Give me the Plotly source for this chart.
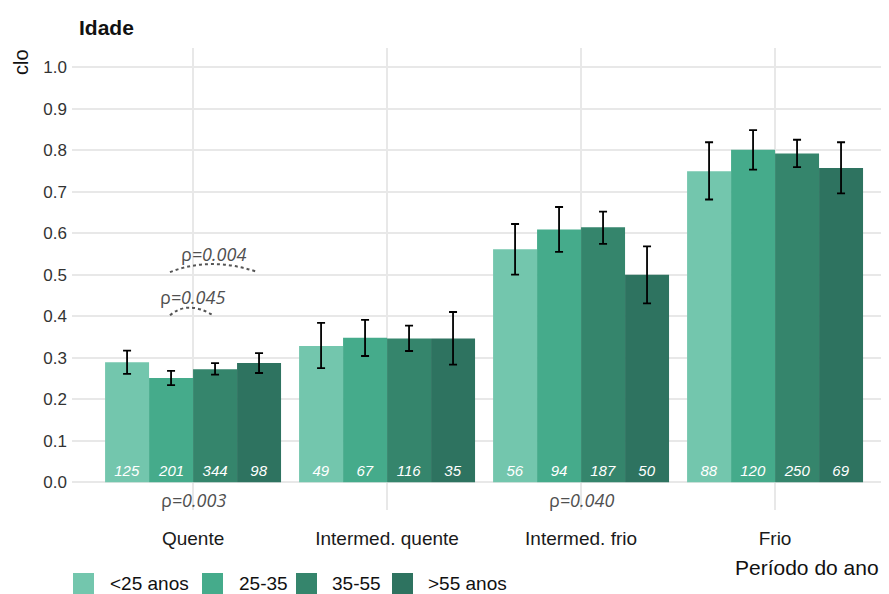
import plotly.graph_objects as go

# ---------------- data ----------------
periods = ["Quente", "Intermed. quente", "Intermed. frio", "Frio"]
age_groups = ["<25 anos", "25-35", "35-55", ">55 anos"]

clo_lt25 = [0.289, 0.328, 0.561, 0.749]
clo_25_35 = [0.251, 0.348, 0.609, 0.801]
clo_35_55 = [0.272, 0.346, 0.614, 0.792]
clo_gt55 = [0.287, 0.346, 0.500, 0.757]

upper_lt25 = [0.317, 0.384, 0.622, 0.819]
upper_25_35 = [0.268, 0.391, 0.663, 0.848]
upper_35_55 = [0.287, 0.377, 0.652, 0.825]
upper_gt55 = [0.311, 0.410, 0.568, 0.819]

lower_lt25 = [0.261, 0.275, 0.500, 0.681]
lower_25_35 = [0.234, 0.304, 0.555, 0.753]
lower_35_55 = [0.259, 0.316, 0.574, 0.759]
lower_gt55 = [0.263, 0.283, 0.431, 0.696]

n_lt25 = [125, 49, 56, 88]
n_25_35 = [201, 67, 94, 120]
n_35_55 = [344, 116, 187, 250]
n_gt55 = [98, 35, 50, 69]

y_ticks = [0.0, 0.1, 0.2, 0.3, 0.4, 0.5, 0.6, 0.7, 0.8, 0.9, 1.0]
y_tick_labels = ["0.0", "0.1", "0.2", "0.3", "0.4", "0.5", "0.6", "0.7", "0.8", "0.9", "1.0"]

p_labels_below = ["0.003", "", "0.040", ""]
p_label_top1 = "0.004"
p_label_top2 = "0.045"

colors = ["#73C6AD", "#45AB8B", "#35856C", "#2E7360"]

means = [clo_lt25, clo_25_35, clo_35_55, clo_gt55]
uppers = [upper_lt25, upper_25_35, upper_35_55, upper_gt55]
lowers = [lower_lt25, lower_25_35, lower_35_55, lower_gt55]
counts = [n_lt25, n_25_35, n_35_55, n_gt55]

# ---------------- figure ----------------
OFF = 8  # page body margin
W, H = 889 - 2 * OFF, 594 - OFF
ML, MR, MT = 72 - OFF, 0, 48 - OFF
PH = 510 - 48
MB = H - MT - PH
PW = W - ML - MR
CAT_PX = 194.0
X0 = -0.624
X1 = X0 + PW / CAT_PX


def px_to_paper_x(px):
    return (px - OFF - ML) / PW


def px_to_paper_y(py):
    return (510 - py) / PH


xpos = list(range(len(periods)))
fig = go.Figure()
for i, g in enumerate(age_groups):
    m = means[i]
    fig.add_trace(go.Bar(
        x=xpos, y=m, name=g,
        marker=dict(color=colors[i], line=dict(width=0)),
        error_y=dict(
            type="data", symmetric=False,
            array=[u - v for u, v in zip(uppers[i], m)],
            arrayminus=[v - l for v, l in zip(m, lowers[i])],
            color="black", thickness=1.8, width=4,
        ),
        text=[str(c) for c in counts[i]],
        textposition="inside", insidetextanchor="start", textangle=0,
        constraintext="none",
        textfont=dict(color="white", size=15, style="italic",
                      family="Liberation Sans, Arial"),
        showlegend=False,
    ))

fig.update_layout(
    width=W, height=H,
    margin=dict(l=ML, r=MR, t=MT, b=MB, pad=0),
    paper_bgcolor="white", plot_bgcolor="white",
    barmode="group", bargap=0.093, bargroupgap=0,
    font=dict(family="Liberation Sans, Arial", color="#1a1a1a"),
    showlegend=False,
)
fig.update_xaxes(
    range=[X0, X1], tickvals=xpos, ticktext=periods,
    showgrid=True, gridcolor="#e8e8e8", gridwidth=1.5,
    zeroline=False, showline=False, ticks="",
    tickfont=dict(size=19, color="#1a1a1a"), ticklabelstandoff=15,
)
fig.update_yaxes(
    range=[-0.067, 1.046], tickvals=y_ticks, ticktext=y_tick_labels,
    showgrid=True, gridcolor="#e8e8e8", gridwidth=1.5,
    zeroline=False, showline=False, ticks="",
    tickfont=dict(size=17, color="#333333"), ticklabelstandoff=4,
)

ann = []
pfont = dict(family="Open Sans", size=18, color="#505050")
for k, p in enumerate(p_labels_below):
    if p:
        ann.append(dict(x=xpos[k], y=-0.043, xref="x", yref="y",
                        text="ρ<i>=" + p + "</i>", showarrow=False,
                        font=pfont, xanchor="center", yanchor="middle"))
ann.append(dict(x=0.103, y=0.55, xref="x", yref="y",
                text="ρ<i>=" + p_label_top1 + "</i>", showarrow=False,
                font=pfont, xanchor="center", yanchor="middle"))
ann.append(dict(x=-0.005, y=0.447, xref="x", yref="y",
                text="ρ<i>=" + p_label_top2 + "</i>", showarrow=False,
                font=pfont, xanchor="center", yanchor="middle"))

# axis titles and headings
ann.append(dict(x=1.0, y=px_to_paper_y(567), xref="paper", yref="paper",
                text="Período do ano", showarrow=False, xanchor="right",
                yanchor="middle", font=dict(size=21, color="#111")))
ann.append(dict(x=px_to_paper_x(21), y=px_to_paper_y(62), xref="paper", yref="paper",
                text="clo", showarrow=False, textangle=-90, xanchor="center",
                yanchor="middle", font=dict(size=20, color="#111")))
ann.append(dict(x=px_to_paper_x(77), y=px_to_paper_y(27), xref="paper", yref="paper",
                text="<b>Idade</b>", showarrow=False, xanchor="left",
                yanchor="middle", font=dict(size=21, color="#111")))

# manual legend
shapes = []
leg_sq_x = [73, 202, 296, 392]
leg_tx_x = [108, 237, 330, 426]
for i, g in enumerate(age_groups):
    shapes.append(dict(type="rect", xref="paper", yref="paper",
                       x0=px_to_paper_x(leg_sq_x[i]), x1=px_to_paper_x(leg_sq_x[i] + 21),
                       y0=px_to_paper_y(596), y1=px_to_paper_y(573),
                       fillcolor=colors[i], line=dict(width=0)))
    ann.append(dict(x=px_to_paper_x(leg_tx_x[i]), y=px_to_paper_y(583),
                    xref="paper", yref="paper", text=g, showarrow=False,
                    xanchor="left", yanchor="middle",
                    font=dict(size=19, color="#111")))

# dotted comparison arcs
shapes.append(dict(type="path", xref="x", yref="y",
                   path="M -0.119,0.506 Q 0.09,0.545 0.335,0.506",
                   line=dict(color="#555555", width=2, dash="dot")))
shapes.append(dict(type="path", xref="x", yref="y",
                   path="M -0.119,0.402 Q -0.03,0.438 0.096,0.404",
                   line=dict(color="#555555", width=2, dash="dot")))

fig.update_layout(annotations=ann, shapes=shapes)
fig.write_html("out.html")
